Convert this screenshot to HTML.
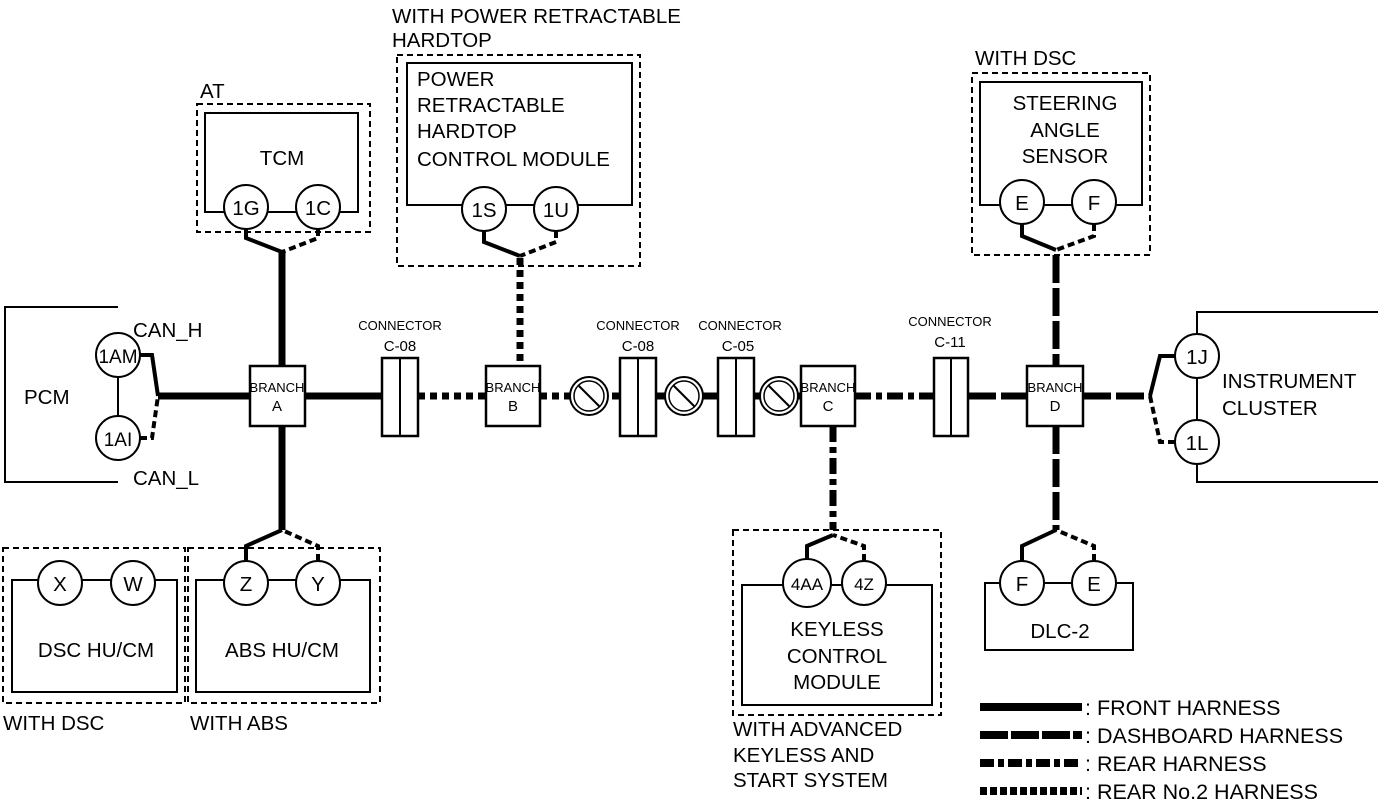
<!DOCTYPE html>
<html><head><meta charset="utf-8"><style>
html,body{margin:0;padding:0;background:#fff}
svg{display:block}
text{font-family:"Liberation Sans",Arial,sans-serif;fill:#000}
</style></head><body>
<svg width="1378" height="805" viewBox="0 0 1378 805" xmlns="http://www.w3.org/2000/svg">
<defs>
<g id="ne"><circle r="19" fill="#fff" stroke="#000" stroke-width="2"/><circle r="15" fill="none" stroke="#000" stroke-width="1.5"/><line x1="-11" y1="-11" x2="11" y2="11" stroke="#000" stroke-width="2"/></g>
</defs>
<g fill="none" stroke="#000">
<line x1="158" y1="396" x2="382" y2="396" stroke-width="7"/>
<line x1="418" y1="396" x2="486" y2="396" stroke-width="7" stroke-dasharray="7,5"/>
<line x1="540" y1="396" x2="620" y2="396" stroke-width="7" stroke-dasharray="7,5"/>
<line x1="656" y1="396" x2="718" y2="396" stroke-width="7"/>
<line x1="754" y1="396" x2="801" y2="396" stroke-width="7" stroke-dasharray="16,4,6,4"/>
<line x1="855" y1="396" x2="934" y2="396" stroke-width="7" stroke-dasharray="16,5,6,5"/>
<line x1="968" y1="396" x2="1027" y2="396" stroke-width="7" stroke-dasharray="28,5"/>
<line x1="1083" y1="396" x2="1150" y2="396" stroke-width="7" stroke-dasharray="28,5"/>
<line x1="282" y1="252" x2="282" y2="366" stroke-width="7"/>
<line x1="282" y1="426" x2="282" y2="530" stroke-width="7"/>
<line x1="520" y1="258" x2="520" y2="366" stroke-width="7" stroke-dasharray="7,5"/>
<line x1="833" y1="426" x2="833" y2="530" stroke-width="7" stroke-dasharray="16,5,6,5"/>
<line x1="1056" y1="255" x2="1056" y2="366" stroke-width="7" stroke-dasharray="28,5"/>
<line x1="1056" y1="426" x2="1056" y2="530" stroke-width="7" stroke-dasharray="28,5"/>
<path d="M118 307 H5 V482 H118" stroke-width="2"/>
<line x1="118" y1="377" x2="118" y2="416" stroke-width="2"/>
<circle cx="118" cy="355" r="22" fill="#fff" stroke-width="2"/>
<circle cx="118" cy="438" r="22" fill="#fff" stroke-width="2"/>
<path d="M140 355 H152 L158 396" stroke-width="4"/>
<path d="M140 438 H152 L158 396" stroke-width="4" stroke-dasharray="7,4"/>
<path d="M1197 333 V312 H1378 M1197 464 V482 H1378" stroke-width="2"/>
<line x1="1197" y1="378" x2="1197" y2="420" stroke-width="2"/>
<circle cx="1197" cy="356" r="22" fill="#fff" stroke-width="2"/>
<circle cx="1197" cy="442" r="22" fill="#fff" stroke-width="2"/>
<path d="M1175 356 H1160 L1150 396" stroke-width="4"/>
<path d="M1175 442 H1160 L1150 396" stroke-width="4" stroke-dasharray="7,4"/>
<rect x="197" y="104" width="173" height="128" stroke-width="2" stroke-dasharray="6,4"/>
<rect x="205" y="113" width="153" height="99" fill="#fff" stroke-width="2"/>
<circle cx="246" cy="207" r="22" fill="#fff" stroke-width="2"/>
<circle cx="318" cy="207" r="22" fill="#fff" stroke-width="2"/>
<path d="M246 229 V238 L282 252" stroke-width="4"/>
<path d="M318 229 V238 L282 252" stroke-width="4" stroke-dasharray="7,4"/>
<rect x="397" y="55" width="243" height="211" stroke-width="2" stroke-dasharray="6,4"/>
<rect x="407" y="63" width="225" height="142" fill="#fff" stroke-width="2"/>
<circle cx="484" cy="209" r="22" fill="#fff" stroke-width="2"/>
<circle cx="556" cy="209" r="22" fill="#fff" stroke-width="2"/>
<path d="M484 231 V242 L520 256" stroke-width="4"/>
<path d="M556 231 V242 L520 256" stroke-width="4" stroke-dasharray="7,4"/>
<rect x="972" y="73" width="178" height="182" stroke-width="2" stroke-dasharray="6,4"/>
<rect x="980" y="82" width="162" height="123" fill="#fff" stroke-width="2"/>
<circle cx="1022" cy="202" r="22" fill="#fff" stroke-width="2"/>
<circle cx="1094" cy="202" r="22" fill="#fff" stroke-width="2"/>
<path d="M1022 224 V236 L1056 250" stroke-width="4"/>
<path d="M1094 224 V236 L1056 250" stroke-width="4" stroke-dasharray="7,4"/>
<rect x="3" y="548" width="182" height="155" stroke-width="2" stroke-dasharray="6,4"/>
<rect x="12" y="580" width="165" height="112" fill="#fff" stroke-width="2"/>
<circle cx="60" cy="583" r="22" fill="#fff" stroke-width="2"/>
<circle cx="133" cy="583" r="22" fill="#fff" stroke-width="2"/>
<rect x="188" y="548" width="192" height="155" stroke-width="2" stroke-dasharray="6,4"/>
<rect x="196" y="580" width="174" height="112" fill="#fff" stroke-width="2"/>
<circle cx="246" cy="583" r="22" fill="#fff" stroke-width="2"/>
<circle cx="318" cy="583" r="22" fill="#fff" stroke-width="2"/>
<path d="M246 561 V546 L282 530" stroke-width="4"/>
<path d="M318 561 V546 L282 530" stroke-width="4" stroke-dasharray="7,4"/>
<rect x="733" y="530" width="208" height="185" stroke-width="2" stroke-dasharray="6,4"/>
<rect x="742" y="585" width="190" height="120" fill="#fff" stroke-width="2"/>
<circle cx="807" cy="583" r="24" fill="#fff" stroke-width="2"/>
<circle cx="864" cy="583" r="22" fill="#fff" stroke-width="2"/>
<path d="M807 559 V546 L833 535" stroke-width="4"/>
<path d="M864 561 V546 L833 535" stroke-width="4" stroke-dasharray="7,4"/>
<path d="M1000 583 H985 V650 H1133 V583 H1116" stroke-width="2"/>
<line x1="1044" y1="583" x2="1072" y2="583" stroke-width="2"/>
<circle cx="1022" cy="583" r="22" fill="#fff" stroke-width="2"/>
<circle cx="1094" cy="583" r="22" fill="#fff" stroke-width="2"/>
<path d="M1022 561 V546 L1056 530" stroke-width="4"/>
<path d="M1094 561 V546 L1056 530" stroke-width="4" stroke-dasharray="7,4"/>
<rect x="250" y="366" width="55" height="60" fill="#fff" stroke-width="2.5"/>
<rect x="486" y="366" width="54" height="60" fill="#fff" stroke-width="2.5"/>
<rect x="801" y="366" width="54" height="60" fill="#fff" stroke-width="2.5"/>
<rect x="1027" y="366" width="56" height="60" fill="#fff" stroke-width="2.5"/>
<rect x="382" y="358" width="36" height="78" fill="#fff" stroke-width="2.5"/><line x1="400" y1="358" x2="400" y2="436" stroke-width="2"/>
<rect x="620" y="358" width="36" height="78" fill="#fff" stroke-width="2.5"/><line x1="638" y1="358" x2="638" y2="436" stroke-width="2"/>
<rect x="718" y="358" width="36" height="78" fill="#fff" stroke-width="2.5"/><line x1="736" y1="358" x2="736" y2="436" stroke-width="2"/>
<rect x="934" y="358" width="34" height="78" fill="#fff" stroke-width="2.5"/><line x1="951" y1="358" x2="951" y2="436" stroke-width="2"/>
<line x1="980" y1="707" x2="1082" y2="707" stroke-width="8"/>
<line x1="980" y1="735" x2="1082" y2="735" stroke-width="8" stroke-dasharray="28,3"/>
<line x1="980" y1="763" x2="1082" y2="763" stroke-width="8" stroke-dasharray="14,4,6,4"/>
<line x1="980" y1="791" x2="1082" y2="791" stroke-width="8" stroke-dasharray="7,3"/>
</g>
<use href="#ne" x="589" y="396"/><use href="#ne" x="684" y="396"/><use href="#ne" x="779" y="396"/>
<g font-size="20.5">
<text x="24" y="404">PCM</text>
<text x="133" y="337">CAN_H</text>
<text x="133" y="485">CAN_L</text>
<text x="118" y="363" text-anchor="middle" font-size="19">1AM</text>
<text x="118" y="446" text-anchor="middle" font-size="19">1AI</text>
<text x="1197" y="364" text-anchor="middle">1J</text>
<text x="1197" y="450" text-anchor="middle">1L</text>
<text x="1222" y="388">INSTRUMENT</text>
<text x="1222" y="415">CLUSTER</text>
<text x="200" y="98">AT</text>
<text x="282" y="165" text-anchor="middle">TCM</text>
<text x="246" y="215" text-anchor="middle">1G</text>
<text x="318" y="215" text-anchor="middle">1C</text>
<text x="392" y="23">WITH POWER RETRACTABLE</text>
<text x="392" y="47">HARDTOP</text>
<text x="417" y="86">POWER</text>
<text x="417" y="112">RETRACTABLE</text>
<text x="417" y="138">HARDTOP</text>
<text x="417" y="166">CONTROL MODULE</text>
<text x="484" y="217" text-anchor="middle">1S</text>
<text x="556" y="217" text-anchor="middle">1U</text>
<text x="975" y="65">WITH DSC</text>
<text x="1065" y="110" text-anchor="middle">STEERING</text>
<text x="1065" y="137" text-anchor="middle">ANGLE</text>
<text x="1065" y="163" text-anchor="middle">SENSOR</text>
<text x="1022" y="210" text-anchor="middle">E</text>
<text x="1094" y="210" text-anchor="middle">F</text>
<text x="60" y="591" text-anchor="middle">X</text>
<text x="133" y="591" text-anchor="middle">W</text>
<text x="96" y="657" text-anchor="middle">DSC HU/CM</text>
<text x="3" y="730">WITH DSC</text>
<text x="246" y="591" text-anchor="middle">Z</text>
<text x="318" y="591" text-anchor="middle">Y</text>
<text x="282" y="657" text-anchor="middle">ABS HU/CM</text>
<text x="190" y="730">WITH ABS</text>
<text x="807" y="590" text-anchor="middle" font-size="17">4AA</text>
<text x="864" y="590" text-anchor="middle" font-size="17">4Z</text>
<text x="837" y="636" text-anchor="middle">KEYLESS</text>
<text x="837" y="663" text-anchor="middle">CONTROL</text>
<text x="837" y="689" text-anchor="middle">MODULE</text>
<text x="733" y="736">WITH ADVANCED</text>
<text x="733" y="762">KEYLESS AND</text>
<text x="733" y="787">START SYSTEM</text>
<text x="1022" y="591" text-anchor="middle">F</text>
<text x="1094" y="591" text-anchor="middle">E</text>
<text x="1060" y="638" text-anchor="middle">DLC-2</text>
<g font-size="21.5">
<text x="1085" y="715">: FRONT HARNESS</text>
<text x="1085" y="743">: DASHBOARD HARNESS</text>
<text x="1085" y="771">: REAR HARNESS</text>
<text x="1085" y="799">: REAR No.2 HARNESS</text>
</g>
</g>
<g font-size="13" text-anchor="middle">
<text x="277" y="392">BRANCH</text><text x="277" y="411" font-size="15">A</text>
<text x="513" y="392">BRANCH</text><text x="513" y="411" font-size="15">B</text>
<text x="828" y="392">BRANCH</text><text x="828" y="411" font-size="15">C</text>
<text x="1055" y="392">BRANCH</text><text x="1055" y="411" font-size="15">D</text>
<text x="400" y="330">CONNECTOR</text><text x="400" y="351" font-size="15">C-08</text>
<text x="638" y="330">CONNECTOR</text><text x="638" y="351" font-size="15">C-08</text>
<text x="740" y="330">CONNECTOR</text><text x="738" y="351" font-size="15">C-05</text>
<text x="950" y="326">CONNECTOR</text><text x="950" y="347" font-size="15">C-11</text>
</g>
</svg>
</body></html>
